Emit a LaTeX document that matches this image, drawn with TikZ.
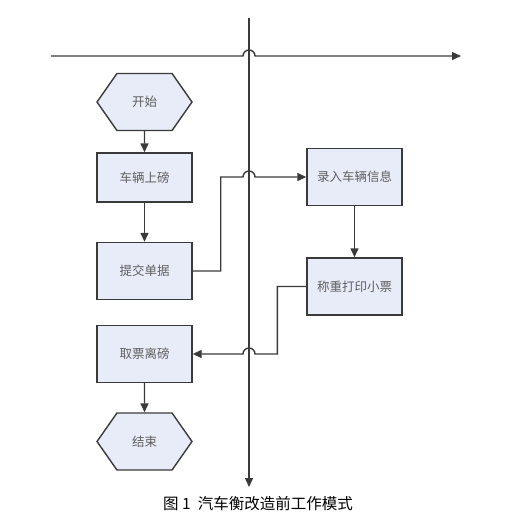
\documentclass[tikz,border=0pt]{standalone}
\usepackage{fontspec}
\setmainfont{Noto Sans CJK SC}
\usepackage{tikz}
\usetikzlibrary{arrows.meta, positioning}
\usetikzlibrary{shapes.symbols}
\usepackage{xcolor}
\definecolor{boxfill}{RGB}{232, 236, 248}
\definecolor{lineg}{RGB}{58, 58, 58}
\definecolor{textg}{RGB}{95, 95, 95}

\begin{document}
\begin{tikzpicture}[
			x=1pt, y=1pt,
			>=Triangle,
			font=\fontsize{12.5}{14}\selectfont,
			% Flowchart node styles
			terminal/.style={
				draw=lineg, fill=boxfill, signal,
				signal to=west and east, signal pointer angle=110,
				minimum width=95pt, minimum height=57pt,
				inner sep=0pt, text=textg,
				line width=1.4pt
			},
			process/.style={
				draw=lineg, fill=boxfill, rectangle,
				minimum width=95pt, minimum height=57pt,
				align=center, text=textg,
				line width=1.4pt
			},
			axis/.style={->, >={Triangle[length=9pt,width=8pt]}, draw=lineg, line width=1.4pt},
			arrow/.style={->, >={Triangle[length=9pt,width=8pt]}, draw=lineg, line width=1.4pt}
		]

		\useasboundingbox (0,0) rectangle (529,-517);

		% Nodes (left column)
		\node[terminal] (start) at (144.5,-102) {开始};
		\node[process, minimum height=49pt] (weighin) at (144.5,-177.5) {车辆上磅};
		\node[process] (submit) at (144.5,-271) {提交单据};
		\node[process] (leave) at (144.5,-354) {取票离磅};
		\node[terminal] (finish) at (144.5,-441.5) {结束};

		% Nodes (right column)
		\node[process] (entry) at (354.5,-177) {录入车辆信息};
		\node[process] (print) at (354.5,-286.5) {称重打印小票};

		% Axes
		\coordinate (h-start) at (51,-56);
		\coordinate (h-end) at (461,-56);
		\coordinate (v-start) at (249,-18);
		\coordinate (v-end) at (249,-487);
		\draw[axis] (v-start) -- (v-end);
		\draw[axis] (h-start) -- (243,-56) arc (180:0:6) -- (h-end);

		% Arrows
		\draw[arrow] (start)   -- (weighin);
		\draw[arrow] (weighin) -- (submit);
		\draw[arrow] (entry)   -- (print);
		\draw[arrow] (leave)   -- (finish);

		% Hops over the vertical line
		\draw[arrow]
			(submit.east)
			-- ++(28,0)
			|- (243,-177) arc (180:0:6)
			-- (entry.west);
		\draw[arrow]
			(print.west)
			-- ++(-29,0)
			|- (255,-354) arc (0:180:6)
			-- (leave.east);

		% Caption
		\node[font=\fontsize{15.5}{18}\selectfont] (caption) at (258,-504) {图 1\ \ 汽车衡改造前工作模式};

		\end{tikzpicture}
\end{document}
